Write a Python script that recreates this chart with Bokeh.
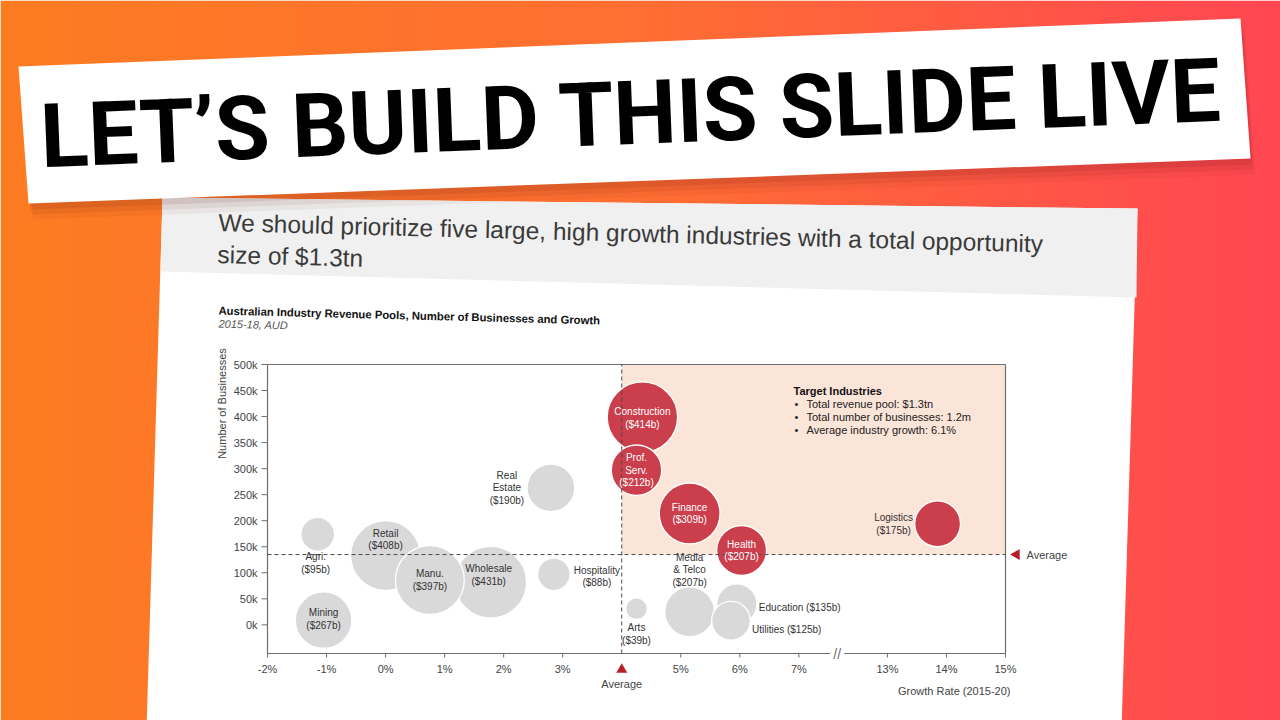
import numpy as np
from bokeh.plotting import figure
from bokeh.models import Range1d, ColumnDataSource
from bokeh.core.properties import value
from bokeh.embed import file_html
from bokeh.resources import INLINE

# ---------------- data ----------------
industries = ["Agri.", "Mining", "Retail", "Wholesale", "Manu.", "Real\nEstate", "Hospitality", "Arts",
              "Media\n& Telco", "Education", "Utilities",
              "Construction", "Prof.\nServ.", "Finance", "Health", "Logistics"]
growth_pct = [-1.15, -1.05, 0.0, 1.78, 0.75, 2.8, 2.85, 4.25, 5.15, 5.95, 5.85,
              4.35, 4.25, 5.15, 6.03, 13.85]
businesses_k = [174, 9, 133, 82, 86, 263, 97, 31, 25, 40, 8,
                399, 297, 214, 143, 194]
revenue_bn = [95, 267, 408, 431, 397, 190, 88, 39, 207, 135, 125,
              414, 212, 309, 207, 175]
is_target = [False] * 11 + [True] * 5
avg_growth_pct = 4.0
avg_businesses_k = 135
x_ticks = [-2, -1, 0, 1, 2, 3, 5, 6, 7, 13, 14, 15]
x_tick_labels = ["-2%", "-1%", "0%", "1%", "2%", "3%", "5%", "6%", "7%", "13%", "14%", "15%"]
y_ticks = [0, 50, 100, 150, 200, 250, 300, 350, 400, 450, 500]
y_tick_labels = ["0k", "50k", "100k", "150k", "200k", "250k", "300k", "350k", "400k", "450k", "500k"]
target_title = "Target Industries"
target_notes = ["Total revenue pool: $1.3tn", "Total number of businesses: 1.2m",
                "Average industry growth: 6.1%"]
banner_text = "LET\u2019S BUILD THIS SLIDE LIVE"
slide_title = ["We should prioritize five large, high growth industries with a total opportunity",
               "size of $1.3tn"]
chart_title = "Australian Industry Revenue Pools, Number of Businesses and Growth"
chart_subtitle = "2015-18, AUD"

# ---------------- axis break (7% -> 13%) ----------------
BREAK_LO, BREAK_HI, BREAK_GAP = 7, 13, 1.5
def gx(v):
    return v if v <= BREAK_LO + 1 else v - (BREAK_HI - BREAK_LO) + BREAK_GAP

X_LO, X_HI = -2, gx(15)
Y_LO, Y_HI = -55, 500
BREAK_AT = BREAK_LO + 0.65

# ---------------- layout ----------------
W, H = 1280, 720
CL, CR, CT, CB = 267, 1005, 364, 653      # chart frame in page pixels
ppx = (CR - CL) / (X_HI - X_LO)
ppy = (CB - CT) / (Y_HI - Y_LO)

p = figure(width=W, height=H, x_range=Range1d(0, W), y_range=Range1d(H, 0),
           x_axis_type=None, y_axis_type=None, toolbar_location=None,
           output_backend="svg", min_border=0, outline_line_color=None)
p.extra_x_ranges = {"cx": Range1d(X_LO - CL / ppx, X_LO + (W - CL) / ppx)}
p.extra_y_ranges = {"cy": Range1d(Y_LO - (H - CB) / ppy, Y_HI + CT / ppy)}
C = dict(x_range_name="cx", y_range_name="cy")

FONT = value("Liberation Sans")
RED = "#CB3E4B"
GREY = "#D9D9D9"
SHADE = "#FBE4D8"
AXIS = "#6e6e6e"
TXT = "#333333"

# ---------------- background gradient ----------------
stops = [(0.0, (253, 124, 34)), (0.5, (255, 110, 50)), (0.8, (255, 86, 70)), (1.0, (255, 70, 82))]
def grad(t):
    for (t0, c0), (t1, c1) in zip(stops[:-1], stops[1:]):
        if t <= t1:
            f = (t - t0) / (t1 - t0)
            return "#%02x%02x%02x" % tuple(int(round(a + (b - a) * f)) for a, b in zip(c0, c1))
    return "#%02x%02x%02x" % stops[-1][1]
N = 128
edges = np.linspace(0, W, N + 1)
p.quad(left=edges[:-1], right=edges[1:] + 0.6, top=0, bottom=H,
       fill_color=[grad((i + 0.5) / N) for i in range(N)], line_color=None)

# ---------------- slide card ----------------
p.patch([162, 1137, 1121, 146], [197, 208, 730, 730], fill_color="white", line_color=None)
p.patch([162, 1137, 1136, 160], [197, 208, 297, 271], fill_color="#F0F0F0", line_color=None)

# ---------------- banner ----------------
bx = [18, 1240, 1250, 28]
by = [66, 18, 158, 203]
for k, a in [(16, 0.05), (11, 0.07), (6, 0.09)]:
    p.patch([x + k * 0.3 for x in bx], [y + k for y in by], fill_color="#5a1010",
            fill_alpha=a, line_color=None)
p.patch(bx, by, fill_color="white", line_color=None)
p.text(x=[631], y=[113], text=[banner_text], angle=0.0393, text_align="center",
       text_baseline="middle", text_font=value("Roboto"),
       text_font_style="bold", text_font_size="89px", text_color="black")

# ---------------- slide titles ----------------
TILT = -0.026
p.text(x=[218, 217], y=[222, 254], text=slide_title, angle=TILT, text_font=FONT,
       text_font_size="24.5px", text_color="#3a3a3a", text_baseline="alphabetic")
p.text(x=[218], y=[310], text=[chart_title], angle=TILT, text_font=FONT,
       text_font_style="bold", text_font_size="11.3px", text_color="#111111", text_baseline="middle")
p.text(x=[218], y=[323], text=[chart_subtitle], angle=TILT, text_font=FONT,
       text_font_style="italic", text_font_size="11px", text_color="#555555", text_baseline="middle")

# ---------------- chart: shaded target quadrant ----------------
p.quad(left=[gx(avg_growth_pct)], right=[X_HI], bottom=[avg_businesses_k], top=[Y_HI],
       fill_color=SHADE, line_color=None, **C)

# frame
p.segment(x0=[X_LO, X_LO, X_HI, X_LO, BREAK_AT + 0.12],
          y0=[Y_LO, Y_HI, Y_HI, Y_LO, Y_LO],
          x1=[X_LO, X_HI, X_HI, BREAK_AT - 0.12, X_HI],
          y1=[Y_HI, Y_HI, Y_LO, Y_LO, Y_LO],
          line_color=AXIS, line_width=1.2, **C)
p.text(x=[BREAK_AT], y=[Y_LO], text=["//"], text_align="center", text_baseline="middle",
       text_font=FONT, text_font_size="14px", text_color=AXIS, **C)

# y ticks and labels
p.segment(x0=CL - 6, x1=CL, y0=y_ticks, y1=y_ticks, line_color=AXIS, line_width=1,
          y_range_name="cy")
p.text(x=[X_LO] * len(y_ticks), y=y_ticks, text=y_tick_labels, x_offset=-10,
       text_align="right", text_baseline="middle", text_font=FONT,
       text_font_size="11px", text_color="#444444", **C)
p.text(x=[221], y=[403], text=["Number of Businesses"], angle=np.pi / 2, text_align="center",
       text_baseline="middle", text_font=FONT, text_font_size="11px", text_color="#444444")

# x ticks and labels
xt = [gx(v) for v in x_ticks]
p.segment(x0=xt, x1=xt, y0=CB, y1=CB + 4, line_color=AXIS, line_width=1, x_range_name="cx")
p.text(x=xt, y=[CB + 15] * len(xt), text=x_tick_labels, text_align="center",
       text_baseline="middle", text_font=FONT, text_font_size="11px", text_color="#444444",
       x_range_name="cx")
p.text(x=[CR + 5], y=[CB + 37], text=["Growth Rate (2015-20)"], text_align="right",
       text_baseline="middle", text_font=FONT, text_font_size="11px", text_color="#444444")

# ---------------- bubbles ----------------
src = ColumnDataSource(dict(
    x=[gx(v) for v in growth_pct], y=businesses_k,
    size=[2 * 1.73 * np.sqrt(r) for r in revenue_bn],
    color=[RED if t else GREY for t in is_target]))
p.scatter("x", "y", size="size", source=src, fill_color="color", line_color="white",
          line_width=1.3, **C)

# average lines
p.segment(x0=[gx(avg_growth_pct), X_LO], y0=[Y_LO, avg_businesses_k],
          x1=[gx(avg_growth_pct), X_HI], y1=[Y_HI, avg_businesses_k],
          line_color="#4a4a4a", line_width=1, line_dash="4 3", **C)
p.scatter(x=[gx(avg_growth_pct)], y=[CB + 16], marker="triangle", size=11,
          fill_color="#B81E2A", line_color=None, x_range_name="cx")
p.text(x=[gx(avg_growth_pct)], y=[CB + 30], text=["Average"], text_align="center",
       text_baseline="middle", text_font=FONT, text_font_size="11px", text_color="#444444",
       x_range_name="cx")
p.scatter(x=[CR + 11], y=[avg_businesses_k], marker="triangle", size=11, angle=np.pi / 2,
          fill_color="#B81E2A", line_color=None, y_range_name="cy")
p.text(x=[CR + 21], y=[avg_businesses_k], text=["Average"], text_align="left",
       text_baseline="middle", text_font=FONT, text_font_size="11px", text_color="#444444",
       y_range_name="cy")

# ---------------- bubble labels ----------------
# (x offset px, y offset px, alignment, label sits inside its bubble)
placement = {
    "Agri.": (-2, 29, "center", False), "Mining": (0, -1, "center", True),
    "Retail": (0, -16, "center", True), "Wholesale": (-2, -7, "center", True),
    "Manu.": (0, 0, "center", True), "Real\nEstate": (-44, 0, "center", False),
    "Hospitality": (43, 2, "center", False), "Arts": (0, 25, "center", False),
    "Media\n& Telco": (0, -42, "center", False),
    "Education": (22, 3, "left", False), "Utilities": (21, 9, "left", False),
    "Construction": (0, 1, "center", True), "Prof.\nServ.": (0, 0, "center", True),
    "Finance": (0, 0, "center", True), "Health": (0, 0, "center", True),
    "Logistics": (-44, 0, "center", False),
}
for align in ("center", "left"):
    rows = [i for i, n in enumerate(industries) if placement[n][2] == align]
    sep = "\n" if align == "center" else " "
    ls = ColumnDataSource(dict(
        x=[gx(growth_pct[i]) for i in rows], y=[businesses_k[i] for i in rows],
        text=[f"{industries[i]}{sep}(${revenue_bn[i]}b)" for i in rows],
        dx=[placement[industries[i]][0] for i in rows],
        dy=[placement[industries[i]][1] for i in rows],
        color=["white" if (is_target[i] and placement[industries[i]][3]) else TXT for i in rows]))
    p.text("x", "y", text="text", x_offset="dx", y_offset="dy", source=ls,
           text_align=align, text_baseline="middle", text_font=FONT,
           text_font_size="10px", text_color="color", text_line_height=1.15, **C)

# ---------------- target industries note ----------------
p.text(x=[793], y=[390], text=[target_title], text_font=FONT, text_font_style="bold",
       text_font_size="11px", text_color="#111111", text_baseline="middle")
p.text(x=[794] * 3, y=[403, 416, 429], text=["\u2022"] * 3, text_font=FONT,
       text_font_size="11px", text_color="#222222", text_baseline="middle")
p.text(x=[806] * 3, y=[403, 416, 429], text=target_notes, text_font=FONT,
       text_font_size="11px", text_color="#222222", text_baseline="middle")

open("out.html", "w").write(file_html(p, INLINE))
